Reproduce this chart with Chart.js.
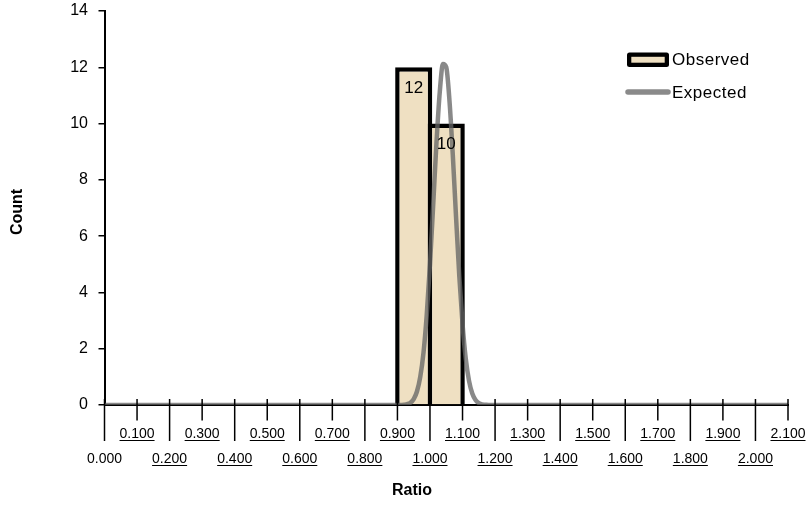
<!DOCTYPE html>
<html>
<head>
<meta charset="utf-8">
<script src="https://cdn.jsdelivr.net/npm/chart.js@4.4.1/dist/chart.umd.min.js"></script>
<style>
  html, body { margin: 0; padding: 0; background: #ffffff; }
  #wrap { width: 809px; height: 508px; }
</style>
</head>
<body>
<div id="wrap"><canvas id="chart" width="809" height="508"></canvas></div>
<script>
// Observed histogram bins (ratio ranges) and their counts
const binLower = [0.9, 1.0];
const binUpper = [1.0, 1.1];
const observedCounts = [12, 10];

// Expected count curve, sampled along the ratio axis
const expectedRatio = [0.00, 0.90, 0.91, 0.92, 0.93, 0.94, 0.95, 0.96, 0.97, 0.98, 0.99,
                       1.00, 1.01, 1.02, 1.03, 1.04, 1.05, 1.06, 1.07, 1.08, 1.09,
                       1.10, 1.11, 1.12, 1.13, 1.14, 1.15, 1.16, 1.17, 1.18, 2.10];
const expectedCount = [0.00, 0.00, 0.00, 0.01, 0.03, 0.08, 0.21, 0.48, 0.99, 1.85, 3.19,
                       5.00, 7.14, 9.33, 11.11, 12.12, 12.00, 10.80, 8.91, 6.70, 4.60,
                       2.88, 1.64, 0.86, 0.41, 0.18, 0.07, 0.02, 0.01, 0.00, 0.00];

// Ratio axis tick values and labels
const ratioTickValues = [0.0, 0.1, 0.2, 0.3, 0.4, 0.5, 0.6, 0.7, 0.8, 0.9, 1.0,
                         1.1, 1.2, 1.3, 1.4, 1.5, 1.6, 1.7, 1.8, 1.9, 2.0, 2.1];
const ratioTickLabels = ['0.000', '0.100', '0.200', '0.300', '0.400', '0.500', '0.600',
                         '0.700', '0.800', '0.900', '1.000', '1.100', '1.200', '1.300',
                         '1.400', '1.500', '1.600', '1.700', '1.800', '1.900', '2.000', '2.100'];

const FONT = '"Liberation Sans", Arial, sans-serif';
const BAR_FILL = '#EFE0C2';
const CURVE = 'rgba(100,100,100,0.76)';

// Draws the staggered ratio axis, titles, bar value labels and the legend
const decorations = {
  id: 'decorations',
  afterDatasetsDraw(chart) {
    const ctx = chart.ctx;
    const meta = chart.getDatasetMeta(1);
    ctx.save();
    ctx.fillStyle = '#000';
    ctx.font = '17px ' + FONT;
    ctx.textAlign = 'center';
    ctx.textBaseline = 'middle';
    meta.data.forEach((bar, i) => {
      ctx.fillText(String(observedCounts[i]), bar.x, bar.y + 21);
    });
    ctx.restore();
  },
  afterDraw(chart) {
    const ctx = chart.ctx;
    const xs = chart.scales.x;
    const area = chart.chartArea;
    const y0 = area.bottom;
    ctx.save();

    // tick marks: long at even steps, short at odd steps
    ctx.strokeStyle = '#000';
    ctx.lineWidth = 1.5;
    ratioTickValues.forEach((v, i) => {
      const px = xs.getPixelForValue(v);
      const long = i % 2 === 0;
      ctx.beginPath();
      ctx.moveTo(px, y0 - 6);
      ctx.lineTo(px, y0 + (long ? 36 : 15.5));
      ctx.stroke();
    });

    // tick labels in two staggered rows, underlined
    ctx.font = '14px ' + FONT;
    ctx.textAlign = 'center';
    ctx.textBaseline = 'alphabetic';
    ctx.fillStyle = '#000';
    ctx.lineWidth = 1;
    ratioTickValues.forEach((v, i) => {
      const px = xs.getPixelForValue(v);
      const ty = i % 2 === 0 ? y0 + 58 : y0 + 33;
      const txt = ratioTickLabels[i];
      ctx.fillText(txt, px, ty);
      if (i > 0) {
        const w = ctx.measureText(txt).width;
        ctx.beginPath();
        ctx.moveTo(px - w / 2, ty + 2.5);
        ctx.lineTo(px + w / 2, ty + 2.5);
        ctx.stroke();
      }
    });

    // axis titles
    ctx.font = 'bold 16px ' + FONT;
    ctx.textBaseline = 'middle';
    ctx.fillText('Ratio', 412, 491);
    ctx.save();
    ctx.translate(18, 212);
    ctx.rotate(-Math.PI / 2);
    ctx.fillText('Count', 0, 0);
    ctx.restore();

    // legend
    const lx = 627, lw = 42;
    ctx.fillStyle = '#000';
    ctx.beginPath();
    ctx.roundRect(lx, 52.5, lw, 14.5, 2.5);
    ctx.fill();
    ctx.fillStyle = BAR_FILL;
    ctx.fillRect(lx + 4.3, 56.8, lw - 8.6, 5.9);
    ctx.strokeStyle = '#8a8a8a';
    ctx.lineWidth = 5.5;
    ctx.lineCap = 'round';
    ctx.beginPath();
    ctx.moveTo(lx + 1, 92);
    ctx.lineTo(lx + lw - 1, 92);
    ctx.stroke();
    ctx.fillStyle = '#000';
    ctx.font = '17px ' + FONT;
    ctx.letterSpacing = '0.5px';
    ctx.textAlign = 'left';
    ctx.fillText('Observed', 672, 60);
    ctx.fillText('Expected', 672, 93);
    ctx.restore();
  }
};

new Chart(document.getElementById('chart'), {
  type: 'bar',
  data: {
    datasets: [
      {
        type: 'line',
        label: 'Expected',
        data: expectedRatio.map((x, i) => ({ x: x, y: expectedCount[i] })),
        borderColor: CURVE,
        borderWidth: 4.5,
        pointRadius: 0,
        fill: false,
        cubicInterpolationMode: 'monotone',
        order: 0
      },
      {
        type: 'bar',
        label: 'Observed',
        data: binLower.map((lo, i) => ({ x: (lo + binUpper[i]) / 2, y: observedCounts[i] })),
        backgroundColor: BAR_FILL,
        borderColor: '#000',
        borderWidth: { top: 4.5, left: 4.5, right: 4.5, bottom: 0 },
        borderSkipped: 'bottom',
        barPercentage: 1.14,
        categoryPercentage: 1,
        order: 1
      }
    ]
  },
  options: {
    responsive: false,
    animation: false,
    devicePixelRatio: 1,
    layout: { padding: { top: 11, right: 21, left: 0, bottom: 0 } },
    plugins: { legend: { display: false }, tooltip: { enabled: false } },
    scales: {
      x: {
        type: 'linear',
        min: 0,
        max: 2.1,
        offset: false,
        z: 1,
        grid: { display: false, offset: false },
        border: { display: true, color: '#000', width: 2 },
        ticks: { display: false, stepSize: 0.1 },
        afterFit(scale) { scale.height = 103; scale.paddingLeft = 0; scale.paddingRight = 0; }
      },
      y: {
        min: 0,
        max: 14,
        ticks: { stepSize: 2, color: '#000', padding: 10.5, font: { size: 16, family: FONT } },
        grid: { drawOnChartArea: false, tickLength: 6, color: '#000', lineWidth: 1.5 },
        border: { display: true, color: '#000', width: 2 },
        afterFit(scale) { scale.width = 104.5; scale.paddingTop = 0; scale.paddingBottom = 0; }
      }
    }
  },
  plugins: [decorations]
});
</script>
</body>
</html>
